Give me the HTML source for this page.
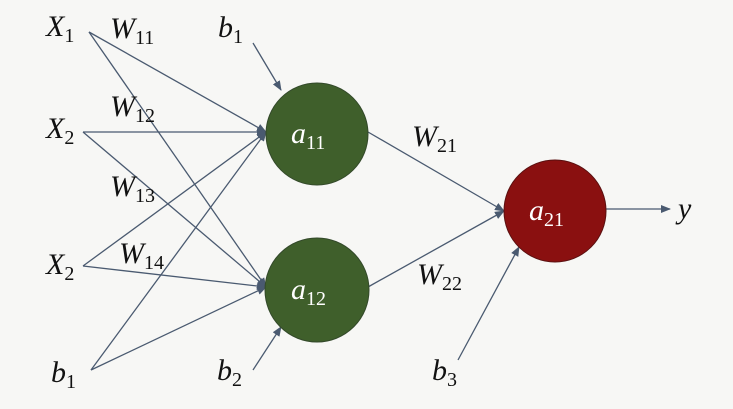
<!DOCTYPE html>
<html><head><meta charset="utf-8"><style>
html,body{margin:0;padding:0;background:#f7f7f5;}
svg{display:block}
text{font-family:"Liberation Serif",serif;fill:#111;}
.v{font-style:italic;font-size:30px;}
.s{font-size:20px;font-style:normal;}
</style></head><body>
<svg width="733" height="409" viewBox="0 0 733 409" xmlns="http://www.w3.org/2000/svg">
<defs>
<marker id="ar" markerWidth="10" markerHeight="8" refX="9" refY="4" orient="auto" markerUnits="userSpaceOnUse">
<path d="M0,0 L10,4 L0,8 z" fill="#4a5a70"/></marker>
</defs>
<rect width="733" height="409" fill="#f7f7f5"/>
<g stroke="#4a5a70" stroke-width="1.3" fill="none" marker-end="url(#ar)">
<line x1="89" y1="32" x2="266" y2="132"/>
<line x1="89" y1="32" x2="266" y2="287"/>
<line x1="83" y1="132" x2="266" y2="132"/>
<line x1="83" y1="132" x2="266" y2="287"/>
<line x1="83" y1="266" x2="266" y2="132"/>
<line x1="83" y1="266" x2="266" y2="287"/>
<line x1="91" y1="370" x2="266" y2="132"/>
<line x1="91" y1="370" x2="266" y2="287"/>
<line x1="253" y1="43" x2="281" y2="90"/>
<line x1="253" y1="370" x2="281" y2="327"/>
<line x1="368" y1="132" x2="504" y2="211"/>
<line x1="368" y1="287" x2="504" y2="211"/>
<line x1="458" y1="360" x2="519" y2="247"/>
<line x1="606" y1="209" x2="670" y2="209"/>
</g>
<circle cx="317" cy="134" r="51" fill="#3f5f2b" stroke="#33492a" stroke-width="1"/>
<circle cx="317" cy="290" r="52" fill="#3f5f2b" stroke="#33492a" stroke-width="1"/>
<circle cx="555" cy="211" r="51" fill="#8a1010" stroke="#5a1010" stroke-width="1"/>
<text class="v" x="46" y="36">X<tspan class="s" dy="6">1</tspan></text>
<text class="v" x="110" y="38">W<tspan class="s" dy="6">11</tspan></text>
<text class="v" x="218" y="37">b<tspan class="s" dy="6">1</tspan></text>
<text class="v" x="110" y="116">W<tspan class="s" dy="6">12</tspan></text>
<text class="v" x="46" y="138">X<tspan class="s" dy="6">2</tspan></text>
<text class="v" x="110" y="196">W<tspan class="s" dy="6">13</tspan></text>
<text class="v" x="119" y="263">W<tspan class="s" dy="6">14</tspan></text>
<text class="v" x="46" y="274">X<tspan class="s" dy="6">2</tspan></text>
<text class="v" x="51" y="382">b<tspan class="s" dy="6">1</tspan></text>
<text class="v" x="217" y="380">b<tspan class="s" dy="6">2</tspan></text>
<text class="v" x="412" y="146">W<tspan class="s" dy="6">21</tspan></text>
<text class="v" x="417" y="284">W<tspan class="s" dy="6">22</tspan></text>
<text class="v" x="432" y="380">b<tspan class="s" dy="6">3</tspan></text>
<text class="v" x="678" y="218">y</text>
<text class="v" x="291" y="143" style="fill:#fff">a<tspan class="s" dy="6" style="fill:#fff">11</tspan></text>
<text class="v" x="291" y="299" style="fill:#fff">a<tspan class="s" dy="6" style="fill:#fff">12</tspan></text>
<text class="v" x="529" y="220" style="fill:#fff">a<tspan class="s" dy="6" style="fill:#fff">21</tspan></text>
</svg>
</body></html>
